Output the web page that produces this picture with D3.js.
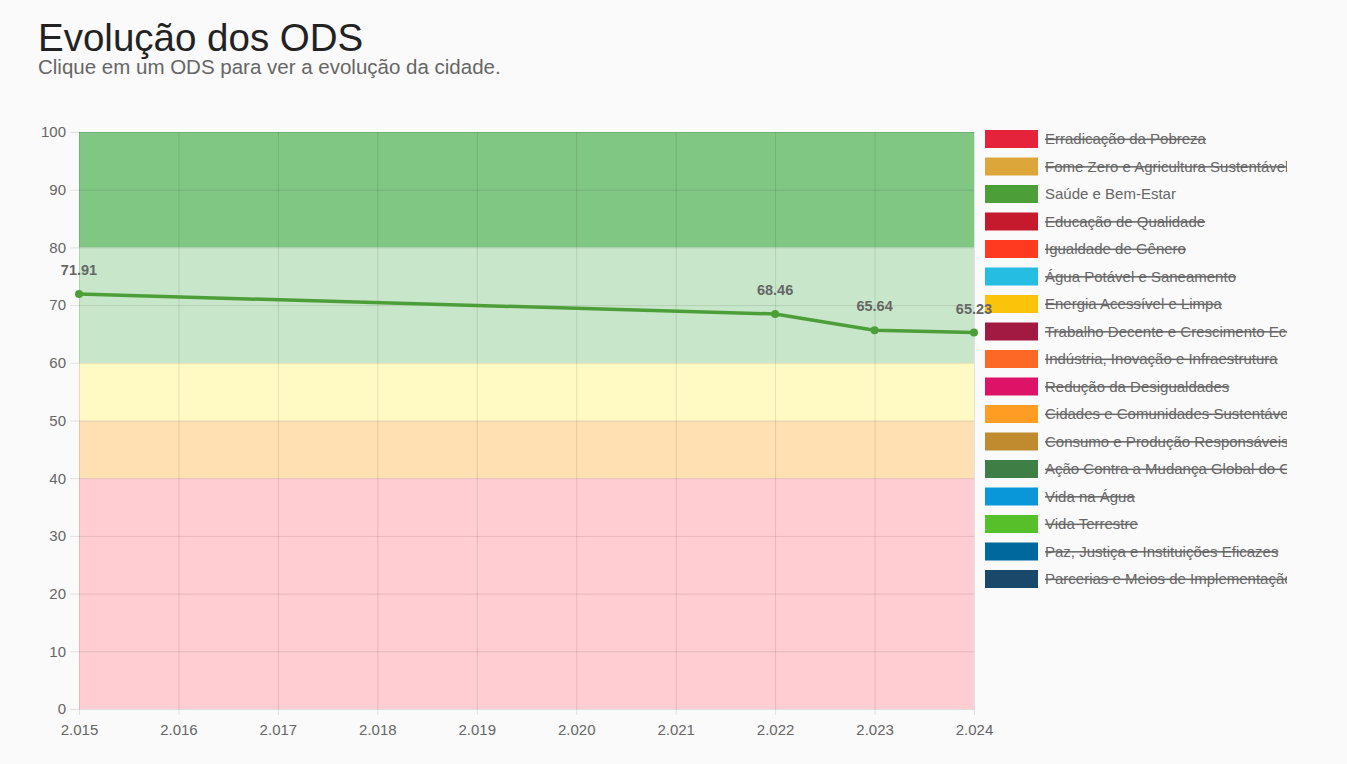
<!DOCTYPE html>
<html><head><meta charset="utf-8">
<script src="https://cdn.jsdelivr.net/npm/d3@7"></script>
<style>
body{margin:0;background:#fafafa;font-family:"Liberation Sans",Arial,sans-serif;}
</style></head><body>
<svg id="c" width="1347" height="764"></svg>
<script>
const years = [2015, 2022, 2023, 2024];
const values = [71.91, 68.46, 65.64, 65.23];
const yTicks = [0,10,20,30,40,50,60,70,80,90,100];
const xTicks = [2015,2016,2017,2018,2019,2020,2021,2022,2023,2024];
const bandFrom = [0, 40, 50, 60, 80];
const bandTo = [40, 50, 60, 80, 100];
const bandColors = ["#ffcdd2", "#ffe0b2", "#fff9c4", "#c8e6c9", "#81c784"];
const odsNames = ["Erradicação da Pobreza","Fome Zero e Agricultura Sustentável","Saúde e Bem-Estar","Educação de Qualidade","Igualdade de Gênero","Água Potável e Saneamento","Energia Acessível e Limpa","Trabalho Decente e Crescimento Econômico","Indústria, Inovação e Infraestrutura","Redução da Desigualdades","Cidades e Comunidades Sustentáveis","Consumo e Produção Responsáveis","Ação Contra a Mudança Global do Clima","Vida na Água","Vida Terrestre","Paz, Justiça e Instituições Eficazes","Parcerias e Meios de Implementação"];
const odsColors = ["#E5243B","#DDA63A","#4C9F38","#C5192D","#FF3A21","#26BDE2","#FCC30B","#A21942","#FD6925","#DD1367","#FD9D24","#BF8B2E","#3F7E44","#0A97D9","#56C02B","#00689D","#19486A"];
const odsVisible = [false,false,true,false,false,false,false,false,false,false,false,false,false,false,false,false,false];

const svg = d3.select("#c");
svg.append("text").attr("x",38).attr("y",51).attr("font-size",38.5).attr("fill","#222").text("Evolução dos ODS");
svg.append("text").attr("x",38).attr("y",74).attr("font-size",20.5).attr("fill","#666").text("Clique em um ODS para ver a evolução da cidade.");

const x = d3.scaleLinear().domain([2015,2024]).range([79,974]);
const y = d3.scaleLinear().domain([0,100]).range([709,132]);

const g = svg.append("g");
g.selectAll("rect.band").data(bandFrom).enter().append("rect")
  .attr("x",x(2015)).attr("width",x(2024)-x(2015))
  .attr("y",(d,i)=>y(bandTo[i])).attr("height",(d,i)=>y(d)-y(bandTo[i]))
  .attr("fill",(d,i)=>bandColors[i]);

const fmt = d3.formatLocale({decimal:",",thousands:".",grouping:[3],currency:["R$",""]}).format(",d");

const ya = d3.axisLeft(y).tickValues(yTicks).tickSize(895+9).tickPadding(4);
const yg = g.append("g").attr("transform",`translate(${x(2024)},0)`).call(ya);
yg.select(".domain").remove();
yg.selectAll("line").attr("stroke","rgba(0,0,0,0.1)");
yg.selectAll("text").attr("font-size",15).attr("fill","#666").attr("font-family","Liberation Sans, Arial, sans-serif");

const xa = d3.axisBottom(x).tickValues(xTicks).tickFormat(fmt).tickSize(577+6).tickPadding(9);
const xg = g.append("g").attr("transform",`translate(0,${y(100)})`).call(xa);
xg.select(".domain").remove();
xg.selectAll("line").attr("stroke","rgba(0,0,0,0.1)");
xg.selectAll("text").attr("font-size",15).attr("fill","#666").attr("font-family","Liberation Sans, Arial, sans-serif");

const pts = years.map((d,i)=>[d,values[i]]);
g.append("path").datum(pts).attr("fill","none").attr("stroke","#4C9F38").attr("stroke-width",3.5)
  .attr("stroke-linejoin","round")
  .attr("d",d3.line().x(d=>x(d[0])).y(d=>y(d[1])));
g.selectAll("circle.pt").data(pts).enter().append("circle")
  .attr("cx",d=>x(d[0])).attr("cy",d=>y(d[1])).attr("r",4).attr("fill","#4C9F38");

// legend
svg.append("clipPath").attr("id","lc").append("rect").attr("x",980).attr("y",120).attr("width",307).attr("height",480);
const lg = svg.append("g").attr("clip-path","url(#lc)");
const ly = d3.scaleLinear().domain([0,16]).range([139,579]);
const items = lg.selectAll("g.it").data(odsNames).enter().append("g")
  .attr("transform",(d,i)=>`translate(985,${ly(i)})`);
items.append("rect").attr("x",0).attr("y",-9).attr("width",53).attr("height",18).attr("fill",(d,i)=>odsColors[i]);
items.append("text").attr("x",60).attr("y",5).attr("font-size",15).attr("fill","#666")
  .attr("text-decoration",(d,i)=>odsVisible[i]?"none":"line-through").text(d=>d);

// data labels on top
svg.append("g").selectAll("text.lbl").data(pts).enter().append("text")
  .attr("x",d=>x(d[0])).attr("y",d=>y(d[1])-19).attr("text-anchor","middle")
  .attr("font-size",14.5).attr("font-weight","bold").attr("fill","#666").text(d=>d[1].toFixed(2));
</script></body></html>
